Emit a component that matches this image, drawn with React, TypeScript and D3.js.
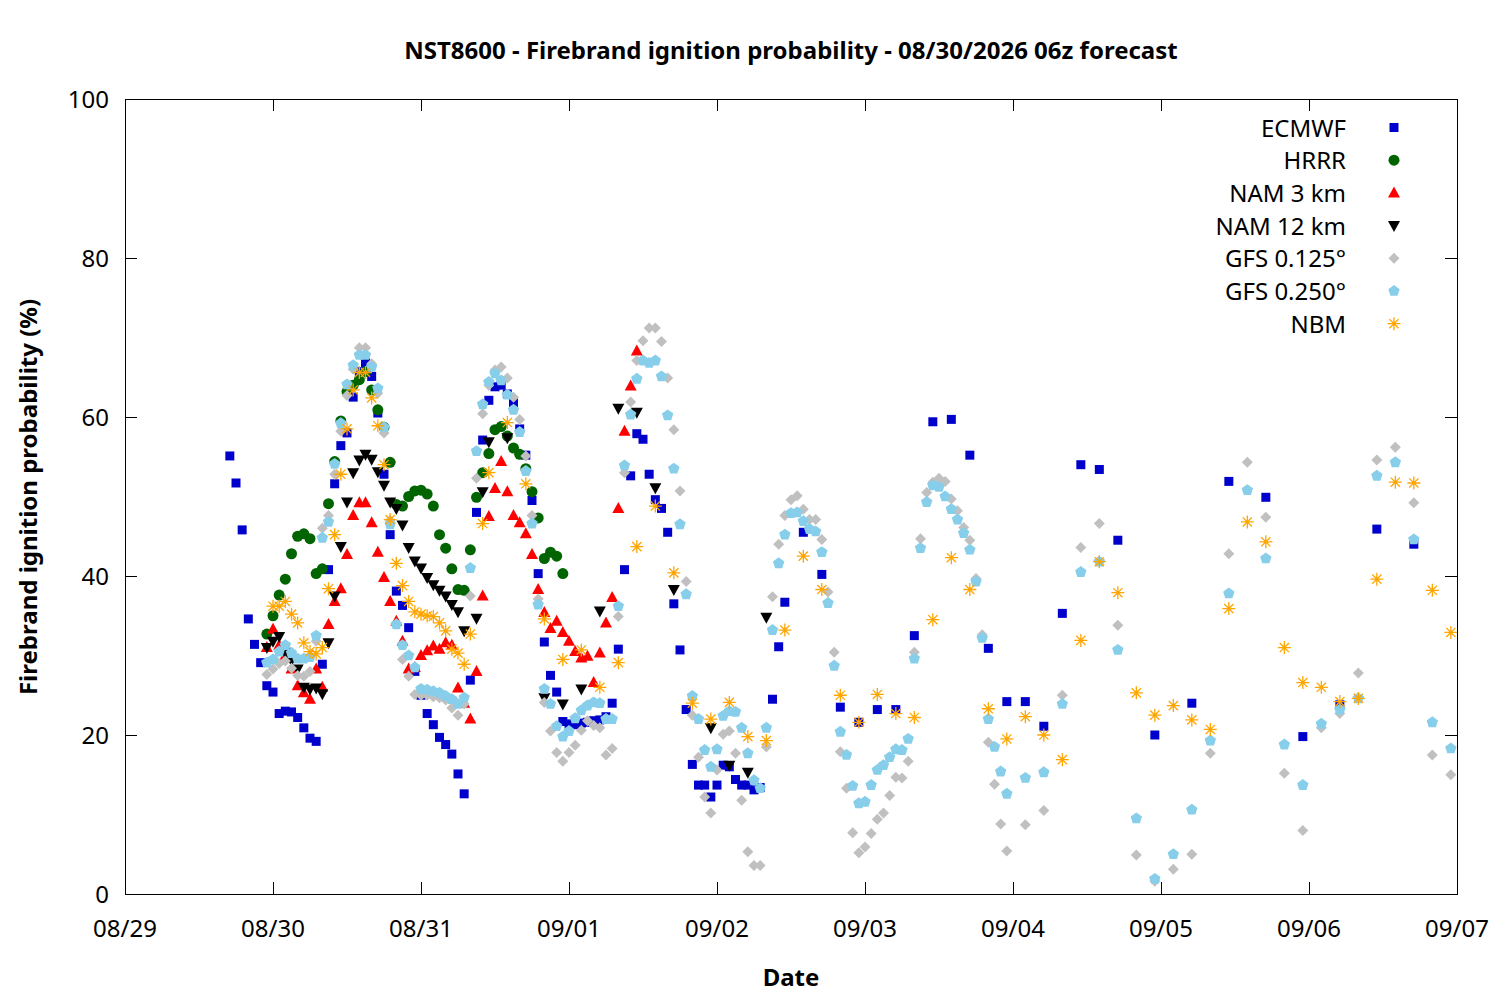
import React, { useRef, useEffect } from 'react';
import * as d3 from 'd3';

// hour offset from 08/29 00z, probability (%)
const ecmwf: [number, number][] = [
  [17, 55.1], [18, 51.7], [19, 45.8], [20, 34.6], [21, 31.4], [22, 29.1], [23, 26.2], [24, 25.4], [25, 22.7], [26, 23.0],
  [27, 22.9], [28, 22.2], [29, 20.9], [30, 19.6], [31, 19.2], [32, 28.9], [33, 40.8], [34, 51.6], [35, 56.4], [36, 58.0],
  [37, 62.5], [38, 65.7], [39, 66.8], [40, 65.1], [41, 60.5], [42, 52.8], [43, 45.2], [44, 38.1], [45, 36.3], [46, 33.5],
  [47, 28.0], [48, 25.0], [49, 22.7], [50, 21.3], [51, 19.7], [52, 18.8], [53, 17.6], [54, 15.1], [55, 12.6], [56, 26.9],
  [57, 48.0], [58, 57.1], [59, 62.1], [60, 63.8], [61, 64.0], [62, 62.9], [63, 61.8], [64, 58.5], [65, 55.2], [66, 49.5],
  [67, 40.3], [68, 31.7], [69, 27.5], [70, 25.4], [71, 21.7], [72, 21.4], [73, 21.3], [74, 21.5], [75, 21.6], [76, 21.8],
  [77, 21.9], [78, 22.3], [79, 24.0], [80, 30.8], [81, 40.8], [82, 52.6], [83, 57.9], [84, 57.2], [85, 52.8], [86, 49.6],
  [87, 48.5], [88, 45.5], [89, 36.5], [90, 30.7], [91, 23.2], [92, 16.3], [93, 13.7], [94, 13.7], [95, 12.2], [96, 13.7],
  [97, 16.2], [98, 16.0], [99, 14.4], [100, 13.7], [101, 13.7], [102, 13.1], [103, 13.4], [105, 24.5], [106, 31.1], [107, 36.7],
  [110, 45.5], [113, 40.2], [116, 23.5], [119, 21.6], [122, 23.2], [125, 23.2], [128, 32.5], [131, 59.4], [134, 59.7], [137, 55.2],
  [140, 30.9], [143, 24.2], [146, 24.2], [149, 21.1], [152, 35.3], [155, 54.0], [158, 53.4], [161, 44.5], [167, 20.0], [173, 24.0],
  [179, 51.9], [185, 49.9], [191, 19.8], [197, 23.8], [203, 45.9], [209, 44.0],
];

const hrrr: [number, number][] = [
  [23, 32.7], [24, 35.0], [25, 37.6], [26, 39.6], [27, 42.8], [28, 45.0], [29, 45.3], [30, 44.7], [31, 40.3], [32, 40.9],
  [33, 49.1], [34, 54.4], [35, 59.5], [36, 63.2], [37, 64.0], [38, 64.7], [39, 65.7], [40, 63.4], [41, 60.9], [42, 58.7],
  [43, 54.3], [44, 49.0], [45, 48.8], [46, 50.0], [47, 50.7], [48, 50.8], [49, 50.3], [50, 48.8], [51, 45.2], [52, 43.5],
  [53, 40.9], [54, 38.3], [55, 38.2], [56, 43.3], [57, 49.9], [58, 53.0], [59, 55.4], [60, 58.4], [61, 58.8], [62, 57.6],
  [63, 56.1], [64, 55.3], [65, 53.5], [66, 50.6], [67, 47.3], [68, 42.2], [69, 43.0], [70, 42.5], [71, 40.3],
];

const nam3: [number, number][] = [
  [23, 31.0], [24, 33.3], [25, 31.3], [26, 30.0], [27, 28.3], [28, 26.2], [29, 25.3], [30, 24.5], [31, 28.3], [32, 26.0],
  [33, 33.9], [34, 36.8], [35, 38.4], [36, 42.7], [37, 47.6], [38, 49.2], [39, 49.2], [40, 46.7], [41, 43.0], [42, 39.8],
  [43, 36.8], [44, 34.3], [45, 31.8], [46, 28.3], [47, 28.5], [48, 30.0], [49, 30.6], [50, 31.2], [51, 30.8], [52, 31.6],
  [53, 31.3], [54, 25.9], [55, 24.0], [56, 22.0], [57, 28.0], [58, 37.5], [59, 47.5], [60, 51.0], [61, 54.4], [62, 50.6],
  [63, 47.6], [64, 46.7], [65, 45.3], [66, 42.7], [67, 38.3], [68, 35.4], [69, 33.4], [70, 34.3], [71, 32.9], [72, 31.8],
  [73, 30.5], [74, 29.7], [75, 29.9], [76, 26.6], [77, 30.3], [78, 34.1], [79, 37.3], [80, 48.5], [81, 58.2], [82, 63.9],
  [83, 68.3],
];

const nam12: [number, number][] = [
  [23, 31.0], [24, 31.8], [25, 32.4], [26, 30.4], [27, 29.4], [28, 28.3], [29, 26.0], [30, 25.8], [31, 25.9], [32, 25.2],
  [33, 31.6], [34, 37.5], [35, 43.7], [36, 49.3], [37, 53.0], [38, 54.6], [39, 55.3], [40, 54.7], [41, 53.1], [42, 51.4],
  [43, 49.3], [44, 48.5], [45, 46.4], [46, 43.6], [47, 41.9], [48, 41.0], [49, 39.8], [50, 38.9], [51, 38.2], [52, 37.5],
  [53, 36.4], [54, 35.5], [55, 33.1], [57, 34.7], [58, 50.6], [59, 56.9], [62, 57.4], [68, 24.7], [71, 23.9], [74, 25.8],
  [77, 35.6], [80, 61.1], [83, 60.6], [86, 51.1], [89, 38.3], [95, 20.9], [98, 16.2], [101, 15.3], [104, 34.8],
];

const gfs0125: [number, number][] = [
  [23, 27.6], [24, 28.3], [25, 29.0], [26, 29.3], [27, 28.4], [28, 27.5], [29, 27.4], [30, 28.0], [31, 31.8], [32, 46.0],
  [33, 47.6], [34, 52.8], [35, 58.2], [36, 62.7], [37, 66.0], [38, 68.7], [39, 68.7], [40, 66.7], [41, 63.0], [42, 58.0],
  [43, 47.0], [44, 34.0], [45, 29.5], [46, 27.4], [47, 25.1], [48, 25.0], [49, 25.0], [50, 24.8], [51, 24.7], [52, 24.4],
  [53, 23.4], [54, 22.5], [55, 23.9], [56, 37.5], [57, 52.3], [58, 60.4], [59, 64.0], [60, 65.9], [61, 66.3], [62, 64.9],
  [63, 62.5], [64, 59.7], [65, 55.1], [66, 47.6], [67, 37.1], [68, 24.1], [69, 20.5], [70, 17.8], [71, 16.7], [72, 17.8],
  [73, 18.7], [74, 20.6], [75, 21.8], [76, 21.2], [77, 20.9], [78, 17.5], [79, 18.3], [80, 34.9], [81, 53.0], [82, 61.9],
  [83, 67.1], [84, 69.6], [85, 71.2], [86, 71.2], [87, 69.5], [88, 64.9], [89, 58.4], [90, 50.7], [91, 39.3], [92, 22.5],
  [93, 17.2], [94, 12.2], [95, 10.2], [96, 15.6], [97, 20.1], [98, 20.5], [99, 17.7], [100, 11.8], [101, 5.3], [102, 3.6],
  [103, 3.6], [104, 18.5], [105, 37.4], [106, 44.0], [107, 47.6], [108, 49.6], [109, 50.1], [110, 48.4], [111, 47.1], [112, 47.1],
  [113, 44.6], [114, 38.0], [115, 30.4], [116, 17.9], [117, 13.3], [118, 7.7], [119, 5.2], [120, 5.9], [121, 7.6], [122, 9.4],
  [123, 10.2], [124, 12.4], [125, 14.7], [126, 14.6], [127, 16.7], [128, 30.4], [129, 44.7], [130, 50.5], [131, 51.8], [132, 52.3],
  [133, 51.9], [134, 49.7], [135, 48.2], [136, 46.1], [137, 44.5], [138, 39.7], [139, 32.6], [140, 19.1], [141, 13.8], [142, 8.8],
  [143, 5.4], [146, 8.7], [149, 10.5], [152, 25.0], [155, 43.6], [158, 46.6], [161, 33.8], [164, 4.9], [167, 1.6], [170, 3.1],
  [173, 5.0], [176, 17.7], [179, 42.8], [182, 54.3], [185, 47.4], [188, 15.2], [191, 8.0], [194, 20.9], [197, 22.7], [200, 27.8],
  [203, 54.6], [206, 56.2], [209, 49.2], [212, 17.5], [215, 15.0],
];

const gfs0250: [number, number][] = [
  [23, 29.1], [24, 29.5], [25, 30.5], [26, 31.3], [27, 30.3], [28, 29.6], [29, 29.6], [30, 29.8], [31, 32.5], [32, 44.8],
  [33, 46.8], [34, 54.1], [35, 59.2], [36, 64.1], [37, 66.5], [38, 67.8], [39, 67.8], [40, 66.3], [41, 63.6], [42, 58.7],
  [43, 46.5], [44, 33.9], [45, 31.3], [46, 30.0], [47, 28.5], [48, 25.8], [49, 25.7], [50, 25.5], [51, 25.3], [52, 24.9],
  [53, 24.5], [54, 23.9], [55, 24.7], [56, 41.0], [57, 55.7], [58, 61.6], [59, 64.4], [60, 65.5], [61, 64.6], [62, 62.8],
  [63, 60.9], [64, 58.1], [65, 53.2], [66, 46.6], [67, 36.4], [68, 25.8], [69, 23.9], [70, 21.1], [71, 19.8], [72, 20.5],
  [73, 22.1], [74, 23.1], [75, 23.7], [76, 24.1], [77, 24.0], [78, 22.0], [79, 22.0], [80, 36.2], [81, 53.9], [82, 60.3],
  [83, 64.8], [84, 67.1], [85, 66.8], [86, 67.1], [87, 65.1], [88, 60.2], [89, 53.5], [90, 46.5], [91, 37.7], [92, 24.9],
  [93, 22.0], [94, 18.1], [95, 16.0], [96, 18.2], [97, 22.4], [98, 23.0], [99, 22.9], [100, 20.9], [101, 17.7], [102, 14.3],
  [103, 13.3], [104, 20.9], [105, 33.2], [106, 41.6], [107, 45.2], [108, 47.9], [109, 48.0], [110, 46.9], [111, 45.9], [112, 45.6],
  [113, 43.0], [114, 36.6], [115, 28.7], [116, 20.4], [117, 17.5], [118, 13.6], [119, 11.4], [120, 11.6], [121, 13.7], [122, 15.6],
  [123, 16.2], [124, 17.2], [125, 18.2], [126, 18.1], [127, 19.5], [128, 29.6], [129, 43.5], [130, 49.3], [131, 51.4], [132, 51.2],
  [133, 50.0], [134, 48.4], [135, 47.1], [136, 45.4], [137, 43.3], [138, 39.3], [139, 32.2], [140, 22.0], [141, 18.5], [142, 15.4],
  [143, 12.6], [146, 14.6], [149, 15.3], [152, 23.9], [155, 40.5], [158, 41.8], [161, 30.7], [164, 9.5], [167, 1.9], [170, 5.0],
  [173, 10.6], [176, 19.3], [179, 37.8], [182, 50.8], [185, 42.2], [188, 18.8], [191, 13.7], [194, 21.4], [197, 23.2], [200, 24.6],
  [203, 52.6], [206, 54.3], [209, 44.6], [212, 21.6], [215, 18.3],
];

const nbm: [number, number][] = [
  [24, 36.2], [25, 36.2], [26, 36.8], [27, 35.2], [28, 34.1], [29, 31.6], [30, 30.5], [31, 30.2], [32, 31.0], [33, 38.4],
  [34, 45.2], [35, 52.8], [36, 58.5], [37, 63.4], [38, 65.6], [39, 65.6], [40, 62.4], [41, 58.9], [42, 54.0], [43, 47.1],
  [44, 41.6], [45, 38.8], [46, 36.8], [47, 35.5], [48, 35.2], [49, 35.0], [50, 34.9], [51, 34.1], [52, 33.1], [53, 30.8],
  [54, 30.3], [55, 28.9], [56, 32.7], [58, 46.6], [59, 53.0], [62, 59.3], [65, 51.6], [68, 34.6], [71, 29.5], [74, 30.7],
  [77, 26.0], [80, 29.1], [83, 43.7], [86, 48.8], [89, 40.4], [92, 24.0], [95, 22.0], [98, 24.1], [101, 19.8], [104, 19.3],
  [107, 33.2], [110, 42.5], [113, 38.3], [116, 25.0], [119, 21.6], [122, 25.1], [125, 22.7], [128, 22.2], [131, 34.5], [134, 42.3],
  [137, 38.3], [140, 23.3], [143, 19.5], [146, 22.3], [149, 20.0], [152, 16.9], [155, 31.9], [158, 41.8], [161, 37.9], [164, 25.3],
  [167, 22.5], [170, 23.7], [173, 21.9], [176, 20.7], [179, 35.9], [182, 46.8], [185, 44.3], [188, 31.0], [191, 26.6], [194, 26.0],
  [197, 24.2], [200, 24.6], [203, 39.6], [206, 51.8], [209, 51.7], [212, 38.2], [215, 32.9],
];

const seriesNames = ['ECMWF', 'HRRR', 'NAM 3 km', 'NAM 12 km', 'GFS 0.125°', 'GFS 0.250°', 'NBM'];
const seriesColors = ['#0000cc', '#006400', '#ff0000', '#000000', '#c0c0c0', '#87ceeb', '#ffa500'];
const seriesShapes = ['square', 'circle', 'triUp', 'triDown', 'diamond', 'pentagon', 'star'];
const seriesData = [ecmwf, hrrr, nam3, nam12, gfs0125, gfs0250, nbm];

const yTicks = [0, 20, 40, 60, 80, 100];
const startDay = Date.UTC(2026, 7, 29);
const endDay = Date.UTC(2026, 8, 7);

function shapePath(shape: string): string {
  switch (shape) {
    case 'square':
      return 'M-4.5,-4.5H4.5V4.5H-4.5Z';
    case 'circle':
      return 'M5.5,0A5.5,5.5 0 1,1 -5.5,0A5.5,5.5 0 1,1 5.5,0Z';
    case 'triUp':
      return 'M0,-6.5L6,4.5L-6,4.5Z';
    case 'triDown':
      return 'M0,6.5L6,-4.5L-6,-4.5Z';
    case 'diamond':
      return 'M0,-5.5L5.5,0L0,5.5L-5.5,0Z';
    case 'pentagon': {
      const pts = d3.range(5).map(i => {
        const a = -Math.PI / 2 + (i * 2 * Math.PI) / 5;
        return [6 * Math.cos(a), 6 * Math.sin(a)];
      });
      return 'M' + pts.map(p => p.join(',')).join('L') + 'Z';
    }
    default: {
      const r = 6.5, q = r * Math.SQRT1_2;
      return `M${-r},0H${r}M0,${-r}V${r}M${-q},${-q}L${q},${q}M${-q},${q}L${q},${-q}`;
    }
  }
}

export default function App() {
  const svgRef = useRef<SVGSVGElement>(null);

  useEffect(() => {
    const width = 1500;
    const height = 1000;
    const left = 125, right = 1457, top = 99, bottom = 894;
    const font = "'Noto Sans', 'Open Sans', sans-serif";

    const svg = d3.select(svgRef.current);
    svg.selectAll('*').remove();
    svg.append('rect').attr('width', width).attr('height', height).attr('fill', '#fff');

    const x = d3.scaleUtc().domain([new Date(startDay), new Date(endDay)]).range([left, right]);
    const y = d3.scaleLinear().domain([0, 100]).range([bottom, top]);
    const toDate = (h: number) => new Date(startDay + h * 3600e3);

    // 프레임과 눈금 (안쪽 방향, 위/오른쪽 미러)
    const frame = svg.append('g').attr('stroke', '#000').attr('stroke-width', 1);
    const days = d3.utcDay.range(new Date(startDay), new Date(endDay + 1));
    days.forEach(d => {
      const px = Math.round(x(d)) + 0.5;
      frame.append('line').attr('x1', px).attr('x2', px).attr('y1', bottom).attr('y2', bottom - 12);
      frame.append('line').attr('x1', px).attr('x2', px).attr('y1', top).attr('y2', top + 12);
    });
    yTicks.forEach(t => {
      const py = Math.round(y(t)) + 0.5;
      frame.append('line').attr('x1', left).attr('x2', left + 12).attr('y1', py).attr('y2', py);
      frame.append('line').attr('x1', right).attr('x2', right - 12).attr('y1', py).attr('y2', py);
    });
    frame.append('rect')
      .attr('x', left + 0.5).attr('y', top + 0.5)
      .attr('width', right - left).attr('height', bottom - top)
      .attr('fill', 'none');

    const fmt = d3.utcFormat('%m/%d');
    svg.append('g').selectAll('text').data(days).enter().append('text')
      .attr('x', d => x(d)).attr('y', 937)
      .attr('text-anchor', 'middle')
      .style('font-family', font).style('font-size', '24px')
      .text(d => fmt(d));

    svg.append('g').selectAll('text').data(yTicks).enter().append('text')
      .attr('x', 109).attr('y', d => y(d) + 9)
      .attr('text-anchor', 'end')
      .style('font-family', font).style('font-size', '24px')
      .text(d => String(d));

    // 제목, 축 이름
    svg.append('text')
      .attr('x', 791).attr('y', 59).attr('text-anchor', 'middle')
      .style('font-family', font).style('font-size', '24px').style('font-weight', 'bold')
      .text('NST8600 - Firebrand ignition probability - 08/30/2026 06z forecast');
    svg.append('text')
      .attr('x', 791).attr('y', 986).attr('text-anchor', 'middle')
      .style('font-family', font).style('font-size', '24px').style('font-weight', 'bold')
      .text('Date');
    svg.append('text')
      .attr('transform', 'translate(37,497) rotate(-90)').attr('text-anchor', 'middle')
      .style('font-family', font).style('font-size', '24px').style('font-weight', 'bold')
      .text('Firebrand ignition probability (%)');

    // 데이터 점
    const clip = svg.append('defs').append('clipPath').attr('id', 'plot-clip');
    clip.append('rect').attr('x', left).attr('y', top).attr('width', right - left).attr('height', bottom - top);

    const marks = svg.append('g').attr('clip-path', 'url(#plot-clip)');
    seriesData.forEach((data, i) => {
      const star = seriesShapes[i] === 'star';
      marks.append('g').selectAll('path').data(data).enter().append('path')
        .attr('transform', d => `translate(${x(toDate(d[0]))},${y(d[1])})`)
        .attr('d', shapePath(seriesShapes[i]))
        .attr('fill', star ? 'none' : seriesColors[i])
        .attr('stroke', star ? seriesColors[i] : 'none')
        .attr('stroke-width', star ? 1.3 : 0);
    });

    // 범례
    const legend = svg.append('g');
    seriesNames.forEach((name, i) => {
      const ly = 127.5 + i * 32.7;
      const star = seriesShapes[i] === 'star';
      legend.append('text')
        .attr('x', 1346).attr('y', ly + 9).attr('text-anchor', 'end')
        .style('font-family', font).style('font-size', '24px')
        .text(name);
      legend.append('path')
        .attr('transform', `translate(1394,${ly})`)
        .attr('d', shapePath(seriesShapes[i]))
        .attr('fill', star ? 'none' : seriesColors[i])
        .attr('stroke', star ? seriesColors[i] : 'none')
        .attr('stroke-width', star ? 1.3 : 0);
    });
  }, []);

  return (
    <svg
      ref={svgRef}
      width={1500}
      height={1000}
      viewBox="0 0 1500 1000"
      style={{ position: 'absolute', left: 0, top: 0, display: 'block' }}
    />
  );
}
